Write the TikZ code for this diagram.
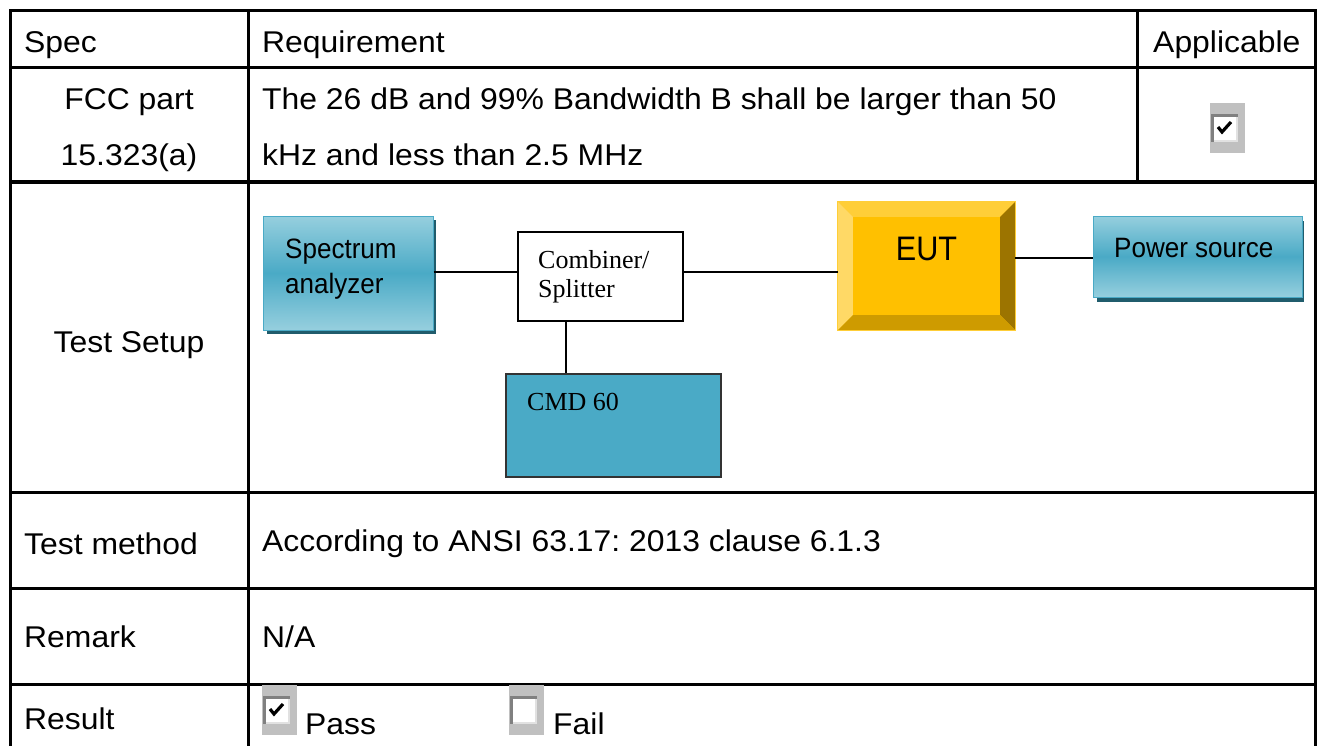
\documentclass[tikz,border=0pt]{standalone}
\usepackage{fontspec}
\setmainfont{Liberation Sans}
\newfontfamily\tnr{Liberation Serif}
\frenchspacing
\usetikzlibrary{calc}
\definecolor{boxmid}{RGB}{74,170,198}
\definecolor{boxlight}{RGB}{150,207,222}
\definecolor{boxshadow}{RGB}{32,92,108}
\definecolor{eutface}{RGB}{255,192,0}
\definecolor{euttop}{RGB}{255,206,56}
\definecolor{eutleft}{RGB}{255,217,102}
\definecolor{eutright}{RGB}{156,116,0}
\definecolor{eutbottom}{RGB}{206,155,0}
\definecolor{cbgray}{RGB}{192,192,192}
\definecolor{cbdark}{RGB}{128,128,128}
\definecolor{cblight}{RGB}{225,225,225}
\tikzset{
  grid/.style={line width=3pt, line cap=rect},
  cell/.style={anchor=base west, inner sep=0pt, font=\frenchspacing\fontsize{30}{36}\selectfont, xscale=1.063},
  ccell/.style={anchor=base, inner sep=0pt, font=\fontsize{30}{36}\selectfont, xscale=1.063},
  dtext/.style={anchor=base west, inner sep=0pt, font=\fontsize{28}{33}\selectfont, xscale=0.93},
  stext/.style={anchor=base west, inner sep=0pt, font=\tnr\fontsize{26}{30}\selectfont},
  wire/.style={line width=1.6pt},
  bluebox/.style={draw=boxmid, line width=1pt, shading=axis, top color=boxlight, bottom color=boxlight, middle color=boxmid, inner sep=0pt},
  cbox/.pic={
    \fill[cbgray] (0,0) rectangle (35,50);
    \fill[white] (1,11) rectangle (28,39);
    \fill[cblight] (26,11) rectangle (28,39);
    \fill[cblight] (1,37) rectangle (28,39);
    \fill[cbdark] (1,11) rectangle (28,14);
    \fill[cbdark] (1,11) rectangle (4,39);
  },
  cboxc/.pic={
    \pic {cbox};
    \draw[line width=3.2pt, line join=miter] (8,24) -- (12,29) -- (21,19);
  }
}
\begin{document}
\begin{tikzpicture}[x=1pt,y=-1pt]
\useasboundingbox (0,0) rectangle (1321,746);
% table grid
\draw[grid] (10,11) -- (1315,11);
\draw[grid] (10,68) -- (1315,68);
\draw[grid] (10,182) -- (1315,182);
\draw[grid] (10,492) -- (1315,492);
\draw[grid] (10,588) -- (1315,588);
\draw[grid] (10,684) -- (1315,684);
\draw[line width=3pt] (10,11) -- (10,746);
\draw[line width=3pt] (248,11) -- (248,746);
\draw[line width=3pt] (1137,11) -- (1137,182);
\draw[line width=3pt] (1315,11) -- (1315,746);
% header
\node[cell] (hspec) at (24,53) {Spec};
\node[cell] (hreq) at (262,53) {Requirement};
\node[cell] (happ) at (1153,53) {Applicable};
% FCC row
\node[ccell] (fcc1) at (129,110) {FCC part};
\node[ccell] (fcc2) at (129,166) {15.323(a)};
\node[cell] (req1) at (262,110) {The 26 dB and 99\% Bandwidth B shall be larger than 50};
\node[cell] (req2) at (262,166) {kHz and less than 2.5 MHz};
\pic at (1210,103) {cboxc};
% Test setup
\node[ccell] (tsetup) at (129,352) {Test Setup};
% spectrum analyzer
\fill[boxshadow] (267,220) rectangle (436,334);
\node[bluebox, minimum width=170pt, minimum height=114pt] (spec) at (348,273) {};
\node[dtext] (spect1) at (285,258) {Spectrum};
\node[dtext] (spect2) at (285,293) {analyzer};
% combiner
\node[draw, fill=white, line width=1.6pt, minimum width=165pt, minimum height=89pt, inner sep=0pt] (comb) at (600.5,276.5) {};
\node[stext] (combt1) at (538,268) {Combiner/};
\node[stext] (combt2) at (538,297) {Splitter};
% CMD 60
\node[draw=black!80, fill=boxmid, line width=1.6pt, minimum width=215pt, minimum height=103pt, inner sep=0pt] (cmd) at (613.5,425.5) {};
\node[stext] (cmdt) at (527,410) {CMD 60};
% EUT
\node[fill=eutface, minimum width=177pt, minimum height=128pt, inner sep=0pt] (eut) at (926.5,266) {};
\fill[euttop] (eut.north west) -- (eut.north east) -- ($(eut.north east)+(-15,15)$) -- ($(eut.north west)+(15,15)$) -- cycle;
\fill[eutleft] (eut.north west) -- ($(eut.north west)+(15,15)$) -- ($(eut.south west)+(15,-15)$) -- (eut.south west) -- cycle;
\fill[eutright] (eut.north east) -- ($(eut.north east)+(-15,15)$) -- ($(eut.south east)+(-15,-15)$) -- (eut.south east) -- cycle;
\fill[eutbottom] (eut.south west) -- ($(eut.south west)+(15,-15)$) -- ($(eut.south east)+(-15,-15)$) -- (eut.south east) -- cycle;
\draw[euttop, line width=1pt] (eut.north west) rectangle (eut.south east);
\node[anchor=base, inner sep=0pt, font=\fontsize{34}{40}\selectfont, xscale=0.9] (eutt) at (926.5,260) {EUT};
% power source
\fill[boxshadow] (1097,221) rectangle (1304,302);
\node[bluebox, minimum width=209pt, minimum height=81pt] (pow) at (1197.5,256.5) {};
\node[dtext] (powt) at (1114,257) {Power source};
% connectors
\draw[wire] (spec.east |- 0,272) -- (comb.west |- 0,272);
\draw[wire] (comb.east |- 0,272) -- (eut.west |- 0,272);
\draw[wire] (eut.east |- 0,258) -- (pow.west |- 0,258);
\draw[wire] (comb.south -| 566,0) -- (cmd.north -| 566,0);
% test method
\node[cell] (tm) at (24,554) {Test method};
\node[cell] (tmv) at (262,551) {According to ANSI 63.17: 2013 clause 6.1.3};
% remark
\node[cell] (rm) at (24,647) {Remark};
\node[cell] (rmv) at (262,647) {N/A};
% result
\node[cell] (rs) at (24,729) {Result};
\pic at (262,685) {cboxc};
\node[cell] (pass) at (305,734) {Pass};
\pic at (509,685) {cbox};
\node[cell] (fail) at (553,734) {Fail};
\end{tikzpicture}
\end{document}
